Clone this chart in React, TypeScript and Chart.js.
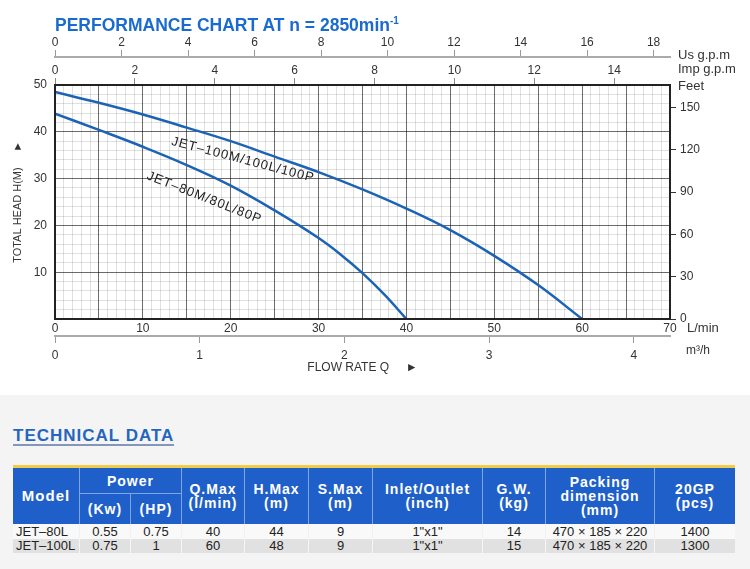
import React, { useEffect, useRef } from 'react';
import { Chart, registerables } from 'chart.js';

Chart.register(...registerables);
Chart.defaults.font.family = '"Liberation Sans", Arial, Helvetica, sans-serif';

// ---------- chart data ----------
const flowRate100 = [0, 5, 10, 15, 20, 25, 30, 35, 40, 45, 50, 55, 60];
const head100 = [48.5, 46.2, 43.7, 40.9, 38.0, 34.7, 31.4, 27.7, 23.6, 19.0, 13.5, 7.25, 0];
const flowRate80 = [0, 5, 10, 15, 20, 25, 30, 32.5, 35, 37.5, 40];
const head80 = [43.9, 40.4, 36.8, 32.9, 28.5, 23.2, 17.3, 13.8, 9.8, 5.2, 0];
const seriesNames = ['JET–100M/100L/100P', 'JET–80M/80L/80P'];

const flowMax = 70; // L/min
const headMax = 50; // m
const feetMax = 166;
const usGpmMax = 70 / 3.785;
const impGpmMax = 70 / 4.546;
const m3hMax = 4.25;

const flowTicks = Array.from({ length: 71 }, (_, i) => i); // 0..70
const headTicks = Array.from({ length: 26 }, (_, i) => i * 2); // 0..50
const feetTicks = [0, 30, 60, 90, 120, 150];
const usGpmTicks = [0, 2, 4, 6, 8, 10, 12, 14, 16, 18];
const impGpmTicks = [0, 2, 4, 6, 8, 10, 12, 14];
const m3hTicks = [0, 1, 2, 3, 4];

// label anchors (data coordinates) and angles for the curve names
const curveLabelAnchors = [
  { x: 21.4, y: 34.0, angle: 14.7 },
  { x: 17.0, y: 25.9, angle: 21.5 },
];

// ---------- table data ----------
const models = ['JET–80L', 'JET–100L'];
const powerKw = ['0.55', '0.75'];
const powerHp = ['0.75', '1'];
const qMax = ['40', '60'];
const hMax = ['44', '48'];
const sMax = ['9', '9'];
const inletOutlet = ['1"x1"', '1"x1"'];
const grossWeight = ['14', '15'];
const packing = ['470 × 185 × 220', '470 × 185 × 220'];
const per20GP = ['1400', '1300'];

const FONT = '"Liberation Sans", Arial, Helvetica, sans-serif';
const CURVE_BLUE = '#1c63b6';
const MAJOR = 'rgba(0,0,0,0.58)';
const MINOR = 'rgba(0,0,0,0.12)';

const setTicks = (vals: number[]) => (scale: any) => {
  scale.ticks = vals.map((v) => ({ value: v }));
};

const overlayPlugin = {
  id: 'overlay',
  afterDatasetsDraw(chart: any) {
    const { ctx, chartArea, scales } = chart;
    ctx.save();
    ctx.strokeStyle = '#222';
    ctx.lineWidth = 2;
    ctx.strokeRect(chartArea.left, chartArea.top, chartArea.right - chartArea.left, chartArea.bottom - chartArea.top);
    ctx.fillStyle = '#222';
    ctx.font = `13px ${FONT}`;
    (ctx as any).letterSpacing = '1px';
    ctx.textAlign = 'center';
    ctx.textBaseline = 'middle';
    curveLabelAnchors.forEach((a, i) => {
      const px = scales.x.getPixelForValue(a.x);
      const py = scales.y.getPixelForValue(a.y);
      ctx.save();
      ctx.translate(px, py);
      ctx.rotate((a.angle * Math.PI) / 180);
      ctx.fillText(seriesNames[i], 0, 0);
      ctx.restore();
    });
    (ctx as any).letterSpacing = '0px';
    ctx.restore();
  },
  afterDraw(chart: any) {
    const { ctx, chartArea, scales } = chart;
    ctx.save();
    ctx.fillStyle = '#333';
    ctx.textAlign = 'left';
    ctx.textBaseline = 'middle';
    ctx.font = `13px ${FONT}`;
    const rx = chartArea.right + 8;
    ctx.fillText('Us g.p.m', rx, scales.xUs.bottom - 2);
    ctx.fillText('Imp g.p.m', rx, scales.xImp.top + 12);
    ctx.fillText('Feet', rx, chartArea.top + 1);
    ctx.fillText('L/min', chartArea.right + 17, chartArea.bottom + 9);
    ctx.font = `12px ${FONT}`;
    ctx.fillText('m³/h', chartArea.right + 16, scales.xM3.top + 15);
    ctx.restore();
  },
};

export default function App() {
  const canvasRef = useRef<HTMLCanvasElement>(null);

  useEffect(() => {
    const canvas = canvasRef.current;
    if (!canvas) return;
    const chart = new Chart(canvas, {
      type: 'line',
      data: {
        datasets: [
          {
            label: seriesNames[0],
            data: flowRate100.map((x, i) => ({ x, y: head100[i] })),
            borderColor: CURVE_BLUE,
            borderWidth: 2.5,
            pointRadius: 0,
            tension: 0.4,
            xAxisID: 'x',
            yAxisID: 'y',
          },
          {
            label: seriesNames[1],
            data: flowRate80.map((x, i) => ({ x, y: head80[i] })),
            borderColor: CURVE_BLUE,
            borderWidth: 2.5,
            pointRadius: 0,
            tension: 0.4,
            xAxisID: 'x',
            yAxisID: 'y',
          },
        ],
      },
      options: {
        responsive: false,
        animation: false,
        layout: { padding: { left: 0, right: 40, top: 37, bottom: 14 } },
        plugins: { legend: { display: false }, tooltip: { enabled: false }, title: { display: false } },
        scales: {
          x: {
            type: 'linear',
            position: 'bottom',
            weight: 0,
            min: 0,
            max: flowMax,
            afterBuildTicks: setTicks(flowTicks),
            afterFit: (s: any) => { s.height = 17; },
            ticks: {
              autoSkip: false,
              maxRotation: 0,
              padding: 2,
              color: '#333',
              font: { size: 12 },
              callback: (v: any) => (Number(v) % 10 === 0 ? String(v) : ''),
            },
            grid: {
              drawTicks: false,
              color: (c: any) => (c.tick && c.tick.value % 5 === 0 ? MAJOR : MINOR),
            },
            border: { display: false },
          },
          xM3: {
            type: 'linear',
            position: 'bottom',
            weight: 1,
            min: 0,
            max: m3hMax,
            afterBuildTicks: setTicks(m3hTicks),
            afterFit: (s: any) => { s.height = 45; },
            ticks: { autoSkip: false, maxRotation: 0, padding: 5, color: '#333', font: { size: 12 } },
            grid: { drawOnChartArea: false, tickLength: 7, color: '#9a9a9a' },
            border: { display: true, color: '#aaaaaa', width: 2 },
            title: {
              display: true,
              text: 'FLOW RATE Q     ►',
              color: '#333',
              font: { size: 12 },
              padding: { top: 0, bottom: 6 },
            },
          },
          xImp: {
            type: 'linear',
            position: 'top',
            weight: 0,
            min: 0,
            max: impGpmMax,
            afterBuildTicks: setTicks(impGpmTicks),
            afterFit: (s: any) => { s.height = 28; },
            ticks: { autoSkip: false, maxRotation: 0, padding: 0, color: '#333', font: { size: 12 } },
            grid: { drawOnChartArea: false, tickLength: 7, color: '#888' },
            border: { display: false },
          },
          xUs: {
            type: 'linear',
            position: 'top',
            weight: 1,
            min: 0,
            max: usGpmMax,
            afterBuildTicks: setTicks(usGpmTicks),
            afterFit: (s: any) => { s.height = 20; },
            ticks: { autoSkip: false, maxRotation: 0, padding: 0, color: '#333', font: { size: 12 } },
            grid: { drawOnChartArea: false, tickLength: 7, color: '#999' },
            border: { display: true, color: '#aaaaaa', width: 2 },
          },
          y: {
            type: 'linear',
            position: 'left',
            min: 0,
            max: headMax,
            afterBuildTicks: setTicks(headTicks),
            afterFit: (s: any) => { s.width = 55; },
            ticks: {
              autoSkip: false,
              padding: 8,
              color: '#333',
              font: { size: 12 },
              callback: (v: any) => (Number(v) % 10 === 0 && Number(v) !== 0 ? String(v) : ''),
            },
            grid: {
              drawTicks: false,
              color: (c: any) => (c.tick && c.tick.value % 10 === 0 ? MAJOR : MINOR),
            },
            border: { display: false },
            title: {
              display: true,
              text: 'TOTAL HEAD H(M)     ►',
              color: '#333',
              font: { size: 11 },
              padding: { top: 11, bottom: 0 },
            },
          },
          yFeet: {
            type: 'linear',
            position: 'right',
            min: 0,
            max: feetMax,
            afterBuildTicks: setTicks(feetTicks),
            afterFit: (s: any) => { s.width = 40; },
            ticks: { autoSkip: false, padding: 4, color: '#333', font: { size: 12 } },
            grid: { drawOnChartArea: false, tickLength: 6, color: '#333' },
            border: { display: false },
          },
        },
      } as any,
      plugins: [overlayPlugin],
    } as any);
    return () => chart.destroy();
  }, []);

  const headBorder = '1px solid #7ea6e6';
  const head = (col: string, row: string, content: React.ReactNode, extra: React.CSSProperties = {}) => (
    <div
      style={{
        gridColumn: col,
        gridRow: row,
        background: '#1f5fca',
        color: '#fff',
        fontWeight: 'bold',
        fontSize: 14,
        letterSpacing: '1px',
        lineHeight: '14px',
        textAlign: 'center',
        display: 'flex',
        alignItems: 'center',
        justifyContent: 'center',
        borderRight: headBorder,
        boxSizing: 'border-box',
        ...extra,
      }}
    >
      <div>{content}</div>
    </div>
  );

  const rowCols = [models, powerKw, powerHp, qMax, hMax, sMax, inletOutlet, grossWeight, packing, per20GP];

  return (
    <div
      style={{
        position: 'absolute',
        left: 0,
        top: 0,
        width: 750,
        height: 569,
        background: '#ffffff',
        overflow: 'hidden',
        fontFamily: FONT,
      }}
    >
      <canvas ref={canvasRef} width={750} height={395} style={{ position: 'absolute', left: 0, top: 0 }} />
      <div
        style={{
          position: 'absolute',
          left: 55,
          top: 16,
          fontSize: 17.5,
          lineHeight: '18px',
          fontWeight: 'bold',
          color: '#1a6bd0',
          whiteSpace: 'nowrap',
        }}
      >
        PERFORMANCE CHART AT n = 2850min
        <span style={{ fontSize: 10, position: 'relative', top: -7 }}>-1</span>
      </div>
      <div
        style={{
          position: 'absolute',
          left: 0,
          top: 395,
          width: 750,
          height: 174,
          background: '#f4f4f4',
        }}
      >
        <div
          style={{
            position: 'absolute',
            left: 13,
            top: 32,
            fontSize: 17,
            lineHeight: '17px',
            fontWeight: 'bold',
            color: '#2466be',
            letterSpacing: '1px',
            borderBottom: '2px solid #8497ba',
            whiteSpace: 'nowrap',
          }}
        >
          TECHNICAL DATA
        </div>
        <div
          style={{
            position: 'absolute',
            left: 13,
            top: 70,
            width: 722,
            borderTop: '3px solid #f0cd45',
            display: 'grid',
            gridTemplateColumns: '67px 51px 51px 63px 64px 64px 110px 63px 109px 80px',
            gridTemplateRows: '26px 30px 15px 14px',
          }}
        >
          {head('1', '1 / 3', 'Model', { fontSize: 15 })}
          {head('2 / 4', '1', 'Power', { borderBottom: headBorder })}
          {head('2', '2', '(Kw)')}
          {head('3', '2', '(HP)')}
          {head('4', '1 / 3', <>Q.Max<br />(l/min)</>)}
          {head('5', '1 / 3', <>H.Max<br />(m)</>)}
          {head('6', '1 / 3', <>S.Max<br />(m)</>)}
          {head('7', '1 / 3', <>Inlet/Outlet<br />(inch)</>)}
          {head('8', '1 / 3', <>G.W.<br />(kg)</>)}
          {head('9', '1 / 3', <>Packing<br />dimension<br />(mm)</>)}
          {head('10', '1 / 3', <>20GP<br />(pcs)</>, { borderRight: 'none' })}
          {[0, 1].map((r) =>
            rowCols.map((col, ci) => (
              <div
                key={`${r}-${ci}`}
                style={{
                  gridColumn: String(ci + 1),
                  gridRow: String(r + 3),
                  background: r === 0 ? '#f9f9f9' : '#e1e1e1',
                  color: '#222',
                  fontSize: 13,
                  lineHeight: r === 0 ? '15px' : '14px',
                  textAlign: ci === 0 ? 'left' : 'center',
                  paddingLeft: ci === 0 ? 3 : 0,
                  borderRight: ci < 9 ? (r === 0 ? '1px solid #f1f1f1' : '1px solid #f6f6f6') : 'none',
                  boxSizing: 'border-box',
                  whiteSpace: 'nowrap',
                  overflow: 'hidden',
                }}
              >
                {col[r]}
              </div>
            ))
          )}
        </div>
      </div>
    </div>
  );
}
